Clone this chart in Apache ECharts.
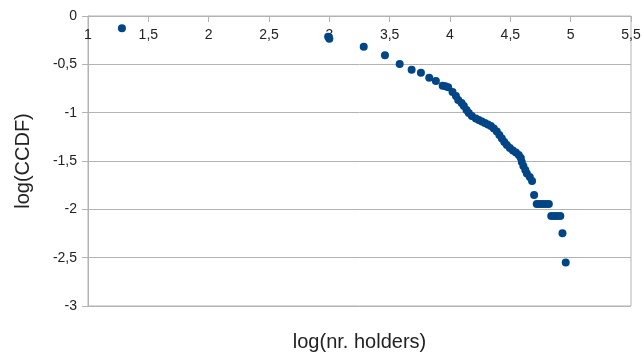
<!DOCTYPE html>
<html>
<head>
<meta charset="utf-8">
<script src="https://cdn.jsdelivr.net/npm/echarts@6/dist/echarts.min.js"></script>
<style>
html,body{margin:0;padding:0;background:#fff;}
#chart{width:642px;height:352px;}
</style>
</head>
<body>
<div id="chart"></div>
<script>
// log10(number of holders)
const logHolders = [
  1.281, 2.990, 3.000, 3.285, 3.461, 3.583, 3.682, 3.759, 3.828, 3.883, 3.939, 3.962, 3.985,
  4.021, 4.049, 4.068, 4.096, 4.115, 4.137, 4.156, 4.181, 4.214, 4.239, 4.264, 4.289, 4.314,
  4.339, 4.363, 4.388, 4.409, 4.430, 4.450, 4.471, 4.496, 4.521, 4.546, 4.570, 4.587, 4.595,
  4.608, 4.624, 4.637, 4.661, 4.680, 4.697,
  4.719, 4.744, 4.769, 4.794, 4.819,
  4.839, 4.864, 4.889, 4.914,
  4.932, 4.959
];
// log10(CCDF)
const logCCDF = [
  -0.127, -0.215, -0.235, -0.317, -0.406, -0.496, -0.555, -0.586, -0.638, -0.672, -0.721, -0.728, -0.737,
  -0.786, -0.827, -0.869, -0.900, -0.931, -0.972, -1.003, -1.034, -1.060, -1.075, -1.091, -1.107, -1.122,
  -1.138, -1.163, -1.194, -1.231, -1.267, -1.303, -1.334, -1.365, -1.391, -1.412, -1.437, -1.468, -1.510,
  -1.551, -1.593, -1.629, -1.665, -1.706, -1.851,
  -1.944, -1.944, -1.944, -1.944, -1.944,
  -2.068, -2.068, -2.068, -2.068,
  -2.247, -2.551
];
const xTitle = 'log(nr. holders)';
const yTitle = 'log(CCDF)';

const points = logHolders.map((x, i) => [x, logCCDF[i]]);
const comma = v => String(+v.toFixed(2)).replace('.', ',');
const gridColor = '#b3b3b3';
const textColor = '#222';
const font = 'Liberation Sans, Arial, sans-serif';

const chart = echarts.init(document.getElementById('chart'), null, {renderer: 'canvas'});
chart.setOption({
  animation: false,
  backgroundColor: '#fff',
  grid: {
    left: 88, right: 11, top: 16, bottom: 46,
    show: true, borderColor: gridColor, borderWidth: 1,
    containLabel: false, outerBoundsMode: 'none'
  },
  xAxis: [{
    type: 'value', min: 1, max: 5.5, interval: 0.5, position: 'top',
    axisLine: {show: true, onZero: false, lineStyle: {color: gridColor}},
    axisTick: {show: true, inside: true, length: 6, lineStyle: {color: gridColor}},
    axisLabel: {show: true, inside: true, margin: 12, color: textColor, fontSize: 14, fontFamily: font,
      formatter: comma, showMinLabel: true, showMaxLabel: true},
    splitLine: {show: false}
  }, {
    type: 'value', min: 1, max: 5.5, position: 'bottom',
    axisLine: {show: false, onZero: false}, axisTick: {show: false},
    axisLabel: {show: false}, splitLine: {show: false},
    name: xTitle, nameLocation: 'middle', nameGap: 26,
    nameTextStyle: {color: textColor, fontSize: 20, fontFamily: font}
  }],
  yAxis: {
    type: 'value', min: -3, max: 0, interval: 0.5,
    axisLine: {show: true, onZero: false, lineStyle: {color: gridColor}},
    axisTick: {show: true, length: 6, lineStyle: {color: gridColor}},
    axisLabel: {margin: 11, color: textColor, fontSize: 14, fontFamily: font, formatter: comma},
    splitLine: {show: true, lineStyle: {color: gridColor, width: 1}},
    name: yTitle, nameLocation: 'middle', nameRotate: 90, nameGap: 55,
    nameTextStyle: {color: textColor, fontSize: 20, fontFamily: font}
  },
  series: [{
    type: 'scatter', xAxisIndex: 0, yAxisIndex: 0,
    data: points, symbol: 'circle', symbolSize: 8,
    itemStyle: {color: '#004586', opacity: 1}
  }]
});
</script>
</body>
</html>
